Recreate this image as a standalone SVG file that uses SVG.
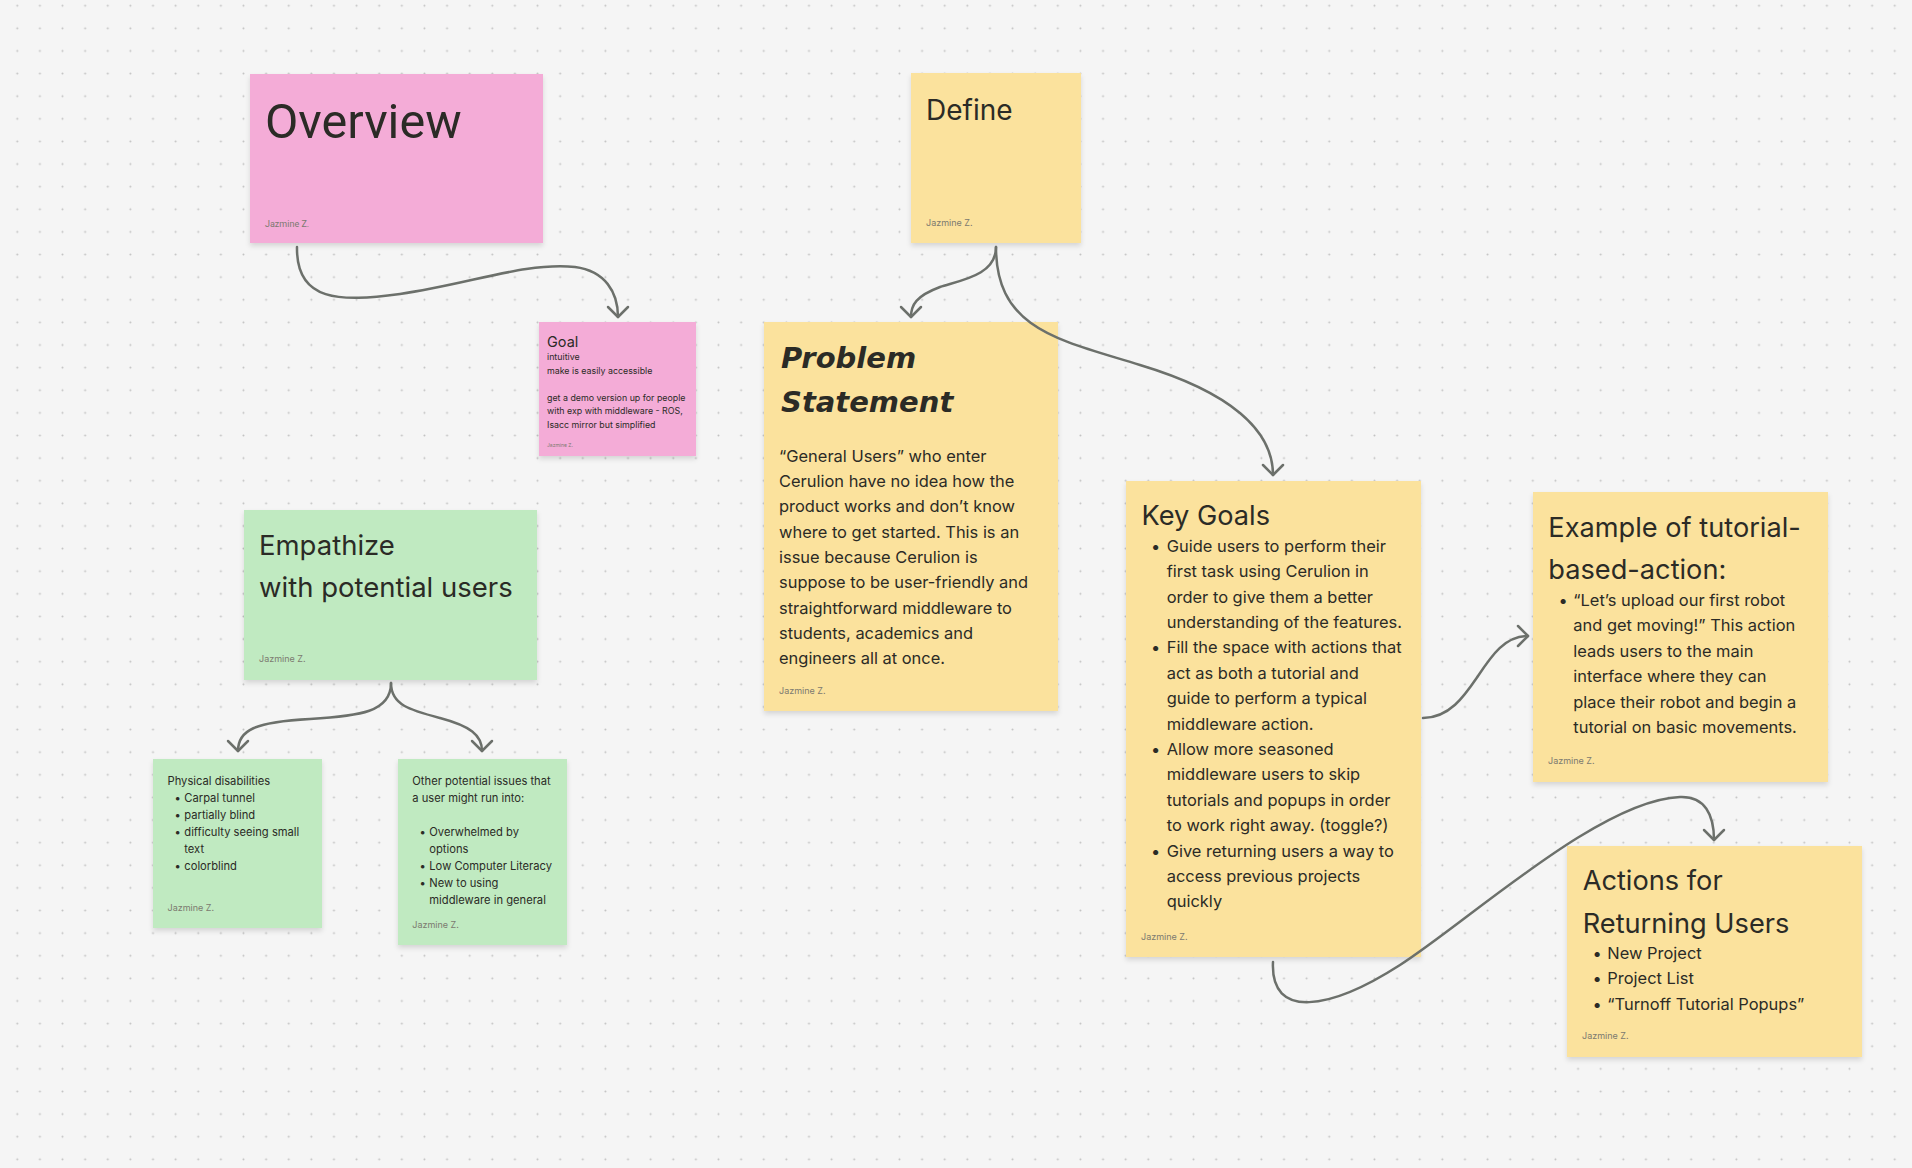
<svg xmlns="http://www.w3.org/2000/svg" width="1912" height="1168" viewBox="0 0 1912 1168">
<defs>
<style>
.bg{fill:#f5f5f5}
.pink{fill:#f4acd7}
.yellow{fill:#fbe29d}
.green{fill:#c0eac1}
.note{filter:url(#shadow)}
.t{font-family:Inter,"Noto Sans","Liberation Sans",sans-serif;fill:#2b2b26}
.sig{font-family:Inter,"Noto Sans","Liberation Sans",sans-serif;font-size:9px;fill:#7c7a70}
.body{font-size:16.45px}
.h27{font-size:27.2px}
.small{font-size:11.2px}
.conn{fill:none;stroke:#6c706b;stroke-width:2.5;stroke-linecap:round;marker-end:url(#arrow)}
</style>
<pattern id="dots" patternUnits="userSpaceOnUse" x="6" y="-5.6" width="22.62" height="22.62">
<circle cx="11.3" cy="11.3" r="1" fill="#c2c2c2"/>
</pattern>
<filter id="shadow" x="-10%" y="-10%" width="120%" height="125%">
<feDropShadow dx="0" dy="3" stdDeviation="2.5" flood-color="#000" flood-opacity="0.13"/>
</filter>
<marker id="arrow" markerUnits="userSpaceOnUse" viewBox="-14 -14 28 28" markerWidth="28" markerHeight="28" refX="0" refY="0" orient="auto">
<path d="M-10,-10 L0,0 L-10,10" fill="none" stroke="#6c706b" stroke-width="2.5" stroke-linecap="round" stroke-linejoin="round"/>
</marker>
</defs>
<rect class="bg" x="0" y="0" width="1912" height="1168"/>
<rect x="0" y="0" width="1912" height="1168" fill="url(#dots)"/>

<g id="overview">
<rect class="pink note" x="250" y="74" width="293" height="169"/>
<text x="265" y="137.5" style="font-family:Roboto,Inter,sans-serif;font-size:48.5px;fill:#2b2b26">Overview</text>
<text class="sig" x="265" y="226.5" style="font-family:Roboto,Inter,sans-serif">Jazmine Z.</text>
</g>

<g id="goal">
<rect class="pink note" x="539" y="322" width="157" height="134"/>
<text class="t" x="547" y="346.5" style="font-size:14.5px">Goal</text>
<text class="t" style="font-size:8.85px">
<tspan x="547" y="360">intuitive</tspan>
<tspan x="547" y="374">make is easily accessible</tspan>
<tspan x="547" y="401">get a demo version up for people</tspan>
<tspan x="547" y="414.3">with exp with middleware - ROS,</tspan>
<tspan x="547" y="427.6">Isacc mirror but simplified</tspan>
</text>
<text class="sig" x="547" y="446.5" style="font-size:5px">Jazmine Z.</text>
</g>

<g id="define">
<rect class="yellow note" x="911" y="73" width="170" height="170"/>
<text class="t" x="926" y="120" style="font-size:28px">Define</text>
<text class="sig" x="926" y="225.7">Jazmine Z.</text>
</g>

<g id="problem-statement">
<rect class="yellow note" x="764" y="322" width="294" height="389"/>
<text x="781" y="368" style="font-family:'DejaVu Sans',sans-serif;font-style:italic;font-weight:bold;font-size:29px;fill:#2b2b26">Problem</text>
<text x="781" y="411.7" style="font-family:'DejaVu Sans',sans-serif;font-style:italic;font-weight:bold;font-size:29px;fill:#2b2b26">Statement</text>
<text class="t body">
<tspan x="779" y="461.7">“General Users” who enter</tspan>
<tspan x="779" y="487">Cerulion have no idea how the</tspan>
<tspan x="779" y="512.4">product works and don’t know</tspan>
<tspan x="779" y="537.7">where to get started. This is an</tspan>
<tspan x="779" y="563">issue because Cerulion is</tspan>
<tspan x="779" y="588.4">suppose to be user-friendly and</tspan>
<tspan x="779" y="613.7">straightforward middleware to</tspan>
<tspan x="779" y="639">students, academics and</tspan>
<tspan x="779" y="664.4">engineers all at once.</tspan>
</text>
<text class="sig" x="779" y="694">Jazmine Z.</text>
</g>

<g id="empathize">
<rect class="green note" x="244" y="510" width="293" height="170"/>
<text class="t" style="font-size:27.5px">
<tspan x="259" y="555">Empathize</tspan>
<tspan x="259" y="597.3">with potential users</tspan>
</text>
<text class="sig" x="259" y="662.3">Jazmine Z.</text>
</g>

<g id="physical-disabilities">
<rect class="green note" x="153" y="759" width="169" height="169"/>
<text class="t small">
<tspan x="167.5" y="785">Physical disabilities</tspan>
<tspan x="174.5" y="802">•</tspan><tspan x="184.3" y="802">Carpal tunnel</tspan>
<tspan x="174.5" y="819">•</tspan><tspan x="184.3" y="819">partially blind</tspan>
<tspan x="174.5" y="836">•</tspan><tspan x="184.3" y="836">difficulty seeing small</tspan>
<tspan x="184.3" y="853">text</tspan>
<tspan x="174.5" y="870">•</tspan><tspan x="184.3" y="870">colorblind</tspan>
</text>
<text class="sig" x="167.5" y="911">Jazmine Z.</text>
</g>

<g id="other-issues">
<rect class="green note" x="398" y="759" width="169" height="186"/>
<text class="t small">
<tspan x="412.3" y="785">Other potential issues that</tspan>
<tspan x="412.3" y="802">a user might run into:</tspan>
<tspan x="419.5" y="836">•</tspan><tspan x="429.3" y="836">Overwhelmed by</tspan>
<tspan x="429.3" y="853">options</tspan>
<tspan x="419.5" y="870">•</tspan><tspan x="429.3" y="870">Low Computer Literacy</tspan>
<tspan x="419.5" y="887">•</tspan><tspan x="429.3" y="887">New to using</tspan>
<tspan x="429.3" y="904">middleware in general</tspan>
</text>
<text class="sig" x="412.3" y="927.7">Jazmine Z.</text>
</g>

<g id="key-goals">
<rect class="yellow note" x="1126" y="481" width="295" height="476"/>
<text class="t" x="1141.5" y="525" style="font-size:27.2px">Key Goals</text>
<text class="t body">
<tspan x="1151" y="551.7">•</tspan><tspan x="1166.7" y="551.7">Guide users to perform their</tspan>
<tspan x="1166.7" y="577.1">first task using Cerulion in</tspan>
<tspan x="1166.7" y="602.5">order to give them a better</tspan>
<tspan x="1166.7" y="627.9">understanding of the features.</tspan>
<tspan x="1151" y="653.3">•</tspan><tspan x="1166.7" y="653.3">Fill the space with actions that</tspan>
<tspan x="1166.7" y="678.7">act as both a tutorial and</tspan>
<tspan x="1166.7" y="704.1">guide to perform a typical</tspan>
<tspan x="1166.7" y="729.5">middleware action.</tspan>
<tspan x="1151" y="754.9">•</tspan><tspan x="1166.7" y="754.9">Allow more seasoned</tspan>
<tspan x="1166.7" y="780.3">middleware users to skip</tspan>
<tspan x="1166.7" y="805.7">tutorials and popups in order</tspan>
<tspan x="1166.7" y="831.1">to work right away. (toggle?)</tspan>
<tspan x="1151" y="856.5">•</tspan><tspan x="1166.7" y="856.5">Give returning users a way to</tspan>
<tspan x="1166.7" y="881.9">access previous projects</tspan>
<tspan x="1166.7" y="907.3">quickly</tspan>
</text>
<text class="sig" x="1141" y="940">Jazmine Z.</text>
</g>

<g id="example">
<rect class="yellow note" x="1533" y="492" width="295" height="290"/>
<text class="t h27">
<tspan x="1548.3" y="536.7">Example of tutorial-</tspan>
<tspan x="1548.3" y="579.3">based-action:</tspan>
</text>
<text class="t body">
<tspan x="1558.5" y="605.7">•</tspan><tspan x="1573.3" y="605.7">“Let’s upload our first robot</tspan>
<tspan x="1573.3" y="631.2">and get moving!” This action</tspan>
<tspan x="1573.3" y="656.7">leads users to the main</tspan>
<tspan x="1573.3" y="682.2">interface where they can</tspan>
<tspan x="1573.3" y="707.7">place their robot and begin a</tspan>
<tspan x="1573.3" y="733.2">tutorial on basic movements.</tspan>
</text>
<text class="sig" x="1548" y="764.3">Jazmine Z.</text>
</g>

<g id="actions-returning">
<rect class="yellow note" x="1567" y="846" width="295" height="211"/>
<text class="t h27">
<tspan x="1582.7" y="890">Actions for</tspan>
<tspan x="1582.7" y="933.3">Returning Users</tspan>
</text>
<text class="t body">
<tspan x="1592.5" y="959">•</tspan><tspan x="1607.3" y="959">New Project</tspan>
<tspan x="1592.5" y="984.3">•</tspan><tspan x="1607.3" y="984.3">Project List</tspan>
<tspan x="1592.5" y="1009.6">•</tspan><tspan x="1607.3" y="1009.6">“Turnoff Tutorial Popups”</tspan>
</text>
<text class="sig" x="1582" y="1039.3">Jazmine Z.</text>
</g>

<g id="connectors">
<path class="conn" d="M297,247 C296,302 340,302 400,294 C470,284 525,262 575,267 C605,271 618,292 618,317"/>
<path class="conn" d="M996,247 C996,275 962,280 940,287 C916,296 911,305 911,317"/>
<path class="conn" d="M996,247 C996,330 1060,340 1140,365 C1230,392 1273,430 1273,475"/>
<path class="conn" d="M391,683 C391,712 360,716 310,719 C255,722 238,730 238,751"/>
<path class="conn" d="M391,683 C391,705 410,710 440,718 C470,726 482,735 482,751"/>
<path class="conn" d="M1423,718 C1450,718 1465,695 1478,676 C1492,655 1505,636 1528,636"/>
<path class="conn" d="M1273,962 C1270,1020 1330,1010 1400,965 S1600,800 1680,797 C1705,796 1714,815 1714,840"/>
</g>
</svg>
